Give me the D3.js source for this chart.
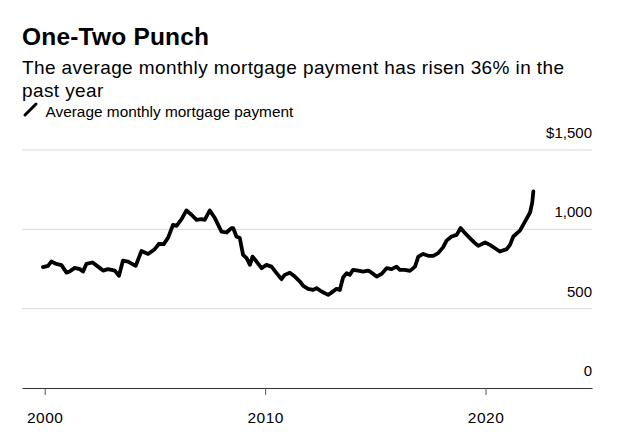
<!DOCTYPE html>
<html>
<head>
<meta charset="utf-8">
<script src="https://cdn.jsdelivr.net/npm/d3@7"></script>
<style>
    body { margin: 0; background: #fff; }
    text { font-family: "Liberation Sans", Arial, sans-serif; fill: #000; }
</style>
</head>
<body>
<div id="chart"></div>
<script>
// dates as decimal years, values in dollars
let years = [1999.92, 2000.15, 2000.30, 2000.53, 2000.76, 2000.99, 2001.13, 2001.36, 2001.59, 2001.74,
    2001.89, 2002.17, 2002.42, 2002.65, 2002.87, 2003.18, 2003.37, 2003.55, 2003.78, 2004.13,
    2004.39, 2004.69, 2004.99, 2005.19, 2005.40, 2005.60, 2005.82, 2005.98, 2006.21, 2006.43,
    2006.66, 2006.89, 2007.11, 2007.26, 2007.49, 2007.72, 2008.02, 2008.25, 2008.47, 2008.55,
    2008.70, 2008.85, 2009.00, 2009.16, 2009.31, 2009.43, 2009.61, 2009.84, 2010.06, 2010.29,
    2010.52, 2010.74, 2010.89, 2011.12, 2011.35, 2011.58, 2011.73, 2011.95, 2012.18, 2012.33,
    2012.56, 2012.86, 2013.01, 2013.24, 2013.39, 2013.54, 2013.70, 2013.84, 2013.99, 2014.22,
    2014.45, 2014.68, 2014.83, 2015.06, 2015.28, 2015.51, 2015.74, 2015.96, 2016.11, 2016.34,
    2016.57, 2016.80, 2016.95, 2017.17, 2017.40, 2017.63, 2017.85, 2018.08, 2018.23, 2018.46,
    2018.69, 2018.87, 2019.07, 2019.29, 2019.52, 2019.67, 2019.98, 2020.20, 2020.43, 2020.65,
    2020.96, 2021.11, 2021.26, 2021.56, 2021.79, 2022.02, 2022.12, 2022.17];

let payments = [762, 770, 797, 782, 774, 727, 734, 757, 749, 734,
    782, 791, 765, 740, 749, 740, 707, 803, 797, 770,
    864, 845, 875, 909, 907, 948, 1028, 1022, 1064, 1119,
    1092, 1060, 1064, 1060, 1119, 1071, 986, 980, 1008, 1008,
    955, 945, 839, 818, 776, 828, 797, 755, 776, 765,
    724, 686, 713, 727, 702, 671, 644, 625, 618, 629,
    608, 587, 601, 625, 618, 698, 724, 713, 745, 740,
    734, 740, 727, 702, 719, 755, 749, 765, 745, 745,
    738, 765, 828, 845, 833, 833, 850, 888, 929, 955,
    965, 1008, 976, 945, 913, 896, 917, 902, 881, 860,
    875, 902, 955, 992, 1049, 1106, 1170, 1239];

let yTicks = [0, 500, 1000, 1500];
let yTickLabels = ["0", "500", "1,000", "$1,500"];
let xTicks = [2000, 2010, 2020];

window.onload = function () {
    drawChart();
};

function drawChart() {

    let width = 621,
        height = 439;

    let svg = d3.select("#chart")
        .append("svg")
        .attr("width", width)
        .attr("height", height);

    // title and subtitle
    svg.append("text")
        .attr("x", 22)
        .attr("y", 44.5)
        .style("font-size", "24.5px")
        .style("font-weight", "bold")
        .style("letter-spacing", "0.2px")
        .text("One-Two Punch");

    let sub = svg.append("text")
        .attr("x", 22)
        .attr("y", 73.5)
        .style("font-size", "19px")
        .style("letter-spacing", "0.4px");
    sub.append("tspan").attr("x", 22).text("The average monthly mortgage payment has risen 36% in the");
    sub.append("tspan").attr("x", 22).attr("dy", 23.3).text("past year");

    // legend
    svg.append("line")
        .attr("x1", 25).attr("y1", 115)
        .attr("x2", 36).attr("y2", 104)
        .attr("stroke", "#000")
        .attr("stroke-width", 3)
        .attr("stroke-linecap", "round");
    svg.append("text")
        .attr("x", 45.5)
        .attr("y", 116.5)
        .style("font-size", "15.4px")
        .text("Average monthly mortgage payment");

    // scales
    let x = d3.scaleLinear()
        .domain([1998.97, 2024.83])
        .range([22, 592]);

    let y = d3.scaleLinear()
        .domain([0, 1500])
        .range([388, 150]);

    // gridlines + labels
    let grid = svg.append("g");
    grid.selectAll("line")
        .data(yTicks.filter(function (d) { return d > 0; }))
        .enter()
        .append("line")
        .attr("x1", x.range()[0])
        .attr("x2", x.range()[1])
        .attr("y1", function (d) { return y(d); })
        .attr("y2", function (d) { return y(d); })
        .attr("stroke", "#d9d9d9")
        .attr("stroke-width", 1);

    grid.selectAll("text")
        .data(yTicks)
        .enter()
        .append("text")
        .attr("x", 592)
        .attr("y", function (d) { return y(d) - 12; })
        .style("text-anchor", "end")
        .style("font-size", "15px")
        .text(function (d, i) { return yTickLabels[i]; });

    // x axis
    let xAxis = svg.append("g")
        .attr("transform", "translate(0," + y(0) + ")")
        .call(d3.axisBottom(x)
            .tickValues(xTicks)
            .tickFormat(d3.format("d"))
            .tickSize(7)
            .tickPadding(17)
            .tickSizeOuter(0));
    xAxis.select(".domain").attr("stroke", "#333");
    xAxis.selectAll(".tick line").attr("stroke", "#555");
    xAxis.selectAll(".tick text")
        .style("font-family", "'Liberation Sans', Arial, sans-serif")
        .style("font-size", "15.5px")
        .style("letter-spacing", "0.5px")
        .attr("fill", "#000");

    // the line
    let data = years.map(function (d, i) { return {year: d, value: payments[i]}; });

    let line = d3.line()
        .x(function (d) { return x(d.year); })
        .y(function (d) { return y(d.value); });

    svg.append("path")
        .datum(data)
        .attr("d", line)
        .attr("fill", "none")
        .attr("stroke", "#000")
        .attr("stroke-width", 3.8)
        .attr("stroke-linejoin", "round")
        .attr("stroke-linecap", "round");
}
</script>
</body>
</html>
